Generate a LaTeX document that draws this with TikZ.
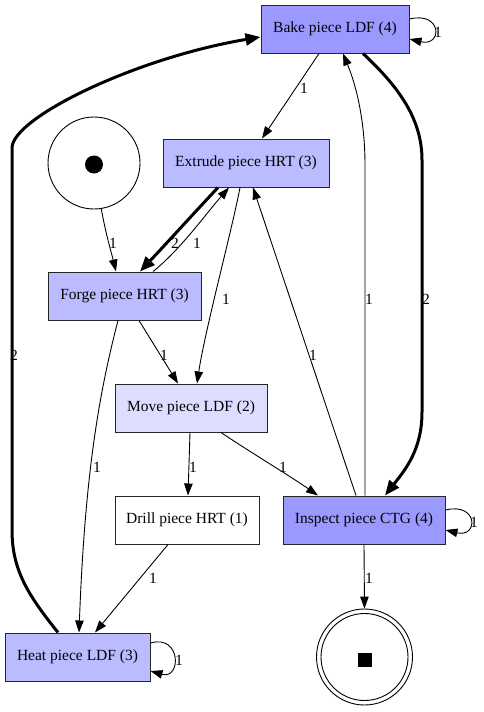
\documentclass[tikz,border=0pt]{standalone}
\usepackage{fontspec}
\setmainfont{Liberation Serif}
\usetikzlibrary{arrows.meta,calc}
\definecolor{cA}{HTML}{9999FF}
\definecolor{cB}{HTML}{BBBBFF}
\definecolor{cC}{HTML}{DDDDFF}
\begin{document}
\begin{tikzpicture}[x=1pt,y=-1pt,
  box/.style={draw=black!85, line width=1pt, minimum height=48pt, inner sep=0pt, font=\fontsize{15.5}{18}\selectfont},
  place/.style={draw=black, line width=0.9pt, circle, inner sep=0pt},
  edge/.style={line width=0.9pt, -{Triangle[length=12pt,width=8.5pt]}},
  thickedge/.style={line width=3pt, -{Triangle[length=15pt,width=12pt]}},
  lbl/.style={font=\fontsize{15.5}{18}\selectfont, inner sep=0pt}]
\useasboundingbox (0,0) rectangle (483,712);
\fill[white] (0,0) rectangle (483,712);

% nodes
\node[box, fill=cA, minimum width=148pt] (bake) at (335,29) {Bake piece LDF (4)};
\node[box, fill=cB, minimum width=166pt] (extrude) at (246,163) {Extrude piece HRT (3)};
\node[box, fill=cB, minimum width=153pt] (forge) at (124.5,296) {Forge piece HRT (3)};
\node[box, fill=cC, minimum width=152pt] (move) at (191,408) {Move piece LDF (2)};
\node[box, fill=white, minimum width=144pt] (drill) at (187,520) {Drill piece HRT (1)};
\node[box, fill=cA, minimum width=162pt] (inspect) at (364,520) {Inspect piece CTG (4)};
\node[box, fill=cB, minimum width=145pt] (heat) at (77.5,657) {Heat piece LDF (3)};
\node[place, minimum size=92pt] (start) at (94,163) {};
\node[circle, fill=black, inner sep=0pt, minimum size=18pt] (startdot) at (94,164.5) {};
\node[place, minimum size=96pt] (end) at (364.5,657) {};
\node[place, minimum size=87pt] (endin) at (364.5,657) {};
\node[fill=black, inner sep=0pt, minimum size=14pt] (enddot) at (365,659.5) {};

% edges
\draw[edge] ($(bake.south)+(-16,0)$) -- ($(extrude.north)+(16,0)$)
  node[lbl] at (304,88) {1};
\draw[edge] ($(bake.east)+(0,-10)$) .. controls +(33,-8) and +(33,8) .. ($(bake.east)+(0,10)$)
  node[lbl] at (438,32) {1};
\draw[thickedge] ($(bake.south)+(28,0)$) .. controls (400,88) and (422,120) .. (422,160)
  -- (422,412) .. controls (422,450) and (405,470) .. ($(inspect.north)+(21,0)$)
  node[lbl] at (426,299) {2};
\draw[thickedge] ($(heat.north)+(-19.5,0)$) .. controls (28,595) and (12,570) .. (12,530)
  -- (12,148) .. controls (12,118) and (135,58) .. ($(bake.west)+(0,8)$)
  node[lbl] at (14,355) {2};
\draw[edge] ($(inspect.north)+(1,0)$) -- (365,165) .. controls (365,120) and (356,85) .. ($(bake.south)+(8,0)$)
  node[lbl] at (369,299) {1};
\draw[edge] ($(inspect.north)+(-8,0)$) -- ($(extrude.south)+(7,0)$)
  node[lbl] at (313,355) {1};
\draw[thickedge] ($(extrude.south)+(-28,0)$) .. controls (195,212) and (165,245) .. ($(forge.north)+(15.5,0)$)
  node[lbl] at (175,243) {2};
\draw[edge] ($(forge.north)+(28.5,0)$) .. controls (180,250) and (205,215) .. ($(extrude.south)+(-17,0)$)
  node[lbl] at (197,243) {1};
\draw[edge] ($(extrude.south)+(-6,0)$) .. controls (232,230) and (205,330) .. ($(move.north)+(6,0)$)
  node[lbl] at (226,299) {1};
\draw[edge] (start.-81) .. controls (106,235) and (112,255) .. ($(forge.north)+(-8.5,0)$)
  node[lbl] at (113,243) {1};
\draw[edge] ($(forge.south)+(14.5,0)$) -- ($(move.north)+(-13,0)$)
  node[lbl] at (164,355) {1};
\draw[edge] ($(forge.south)+(-6.5,0)$) .. controls (100,390) and (85,470) .. ($(heat.north)+(1.5,0)$)
  node[lbl] at (97,467) {1};
\draw[edge] ($(move.south)+(-1,0)$) -- ($(drill.north)+(1,0)$)
  node[lbl] at (193,467) {1};
\draw[edge] ($(move.south)+(30,0)$) .. controls (250,452) and (290,476) .. ($(inspect.north)+(-46,0)$)
  node[lbl] at (283,467) {1};
\draw[edge] ($(drill.south)+(-19,0)$) -- ($(heat.north)+(17.5,0)$)
  node[lbl] at (153,578) {1};
\draw[edge] (inspect.south) -- (end.north)
  node[lbl] at (369,578) {1};
\draw[edge] ($(inspect.east)+(0,-10)$) .. controls +(33,-8) and +(33,8) .. ($(inspect.east)+(0,10)$)
  node[lbl] at (474,522) {1};
\draw[edge] ($(heat.east)+(0,-14)$) .. controls +(31,-9) and +(31,9) .. ($(heat.east)+(0,14)$)
  node[lbl] at (179,660) {1};
\end{tikzpicture}
\end{document}
